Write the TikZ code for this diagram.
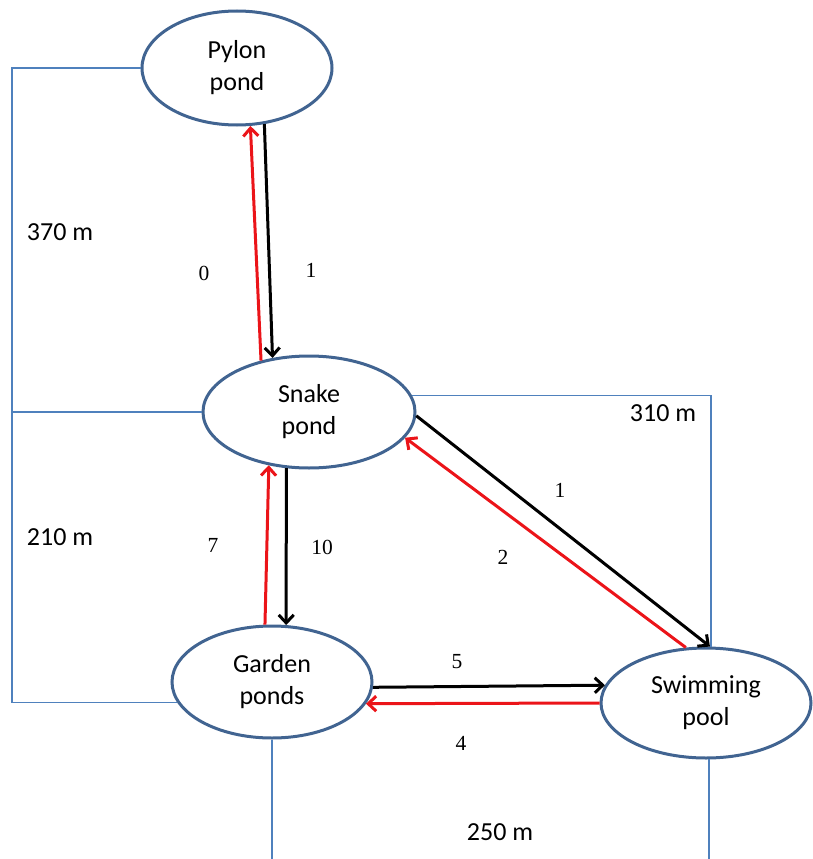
\documentclass[tikz,border=0pt]{standalone}
\usepackage{fontspec}
\setmainfont{Carlito}
\newfontfamily\numfont{Liberation Serif}
\usetikzlibrary{arrows.meta,shapes.geometric}
\definecolor{rimblue}{RGB}{65,100,145}
\definecolor{routeblue}{RGB}{79,129,189}
\definecolor{backred}{RGB}{235,20,25}
\tikzset{
  pond/.style={ellipse, draw=rimblue, line width=3pt, fill=white,
    minimum width=#1, align=center, inner sep=0pt,
    font=\fontsize{26}{32}\selectfont},
  route/.style={draw=routeblue, line width=1.4pt},
  flow/.style={line width=3pt, -{Straight Barb[length=8pt,width=15pt]}},
  fwd/.style={flow, draw=black},
  back/.style={flow, draw=backred},
  dist/.style={inner sep=0pt, font=\fontsize{26}{30}\selectfont},
  count/.style={inner sep=0pt, font=\numfont\fontsize{21.5}{24}\selectfont},
}
\begin{document}
\begin{tikzpicture}[x=1pt,y=-1pt]
\useasboundingbox (0,0) rectangle (812,859);

% ponds
\node[pond=190pt, minimum height=114pt] (pylon) at (237,68) {Pylon\\pond};
\node[pond=212pt, minimum height=112pt] (snake) at (309,412) {Snake\\pond};
\node[pond=200pt, minimum height=112pt] (garden) at (272,682) {Garden\\ponds};
\node[pond=210pt, minimum height=110pt] (swim) at (706,703) {Swimming\\pool};

% distance routes
\coordinate (lx) at (12,0);
\coordinate (rx) at (711,0);
\coordinate (bottom) at (0,859);
\draw[route] (pylon.west) -- (pylon.west -| lx) -- (garden.192 -| lx) -- (garden.192);
\draw[route] (snake.west -| lx) -- (snake.west);
\draw[route] (snake.9) -- (snake.9 -| rx) -- (swim.85 -| rx);
\draw[route] (garden.south) -- (garden.south |- bottom);
\draw[route] (swim.-87) -- (swim.-87 |- bottom);

% flows
\draw[back] (snake.133) -- (pylon.-77);
\draw[fwd] (pylon.-64) -- (snake.124);
\draw[back] (garden.97) -- (snake.-127);
\draw[fwd] (snake.-112) -- (garden.76);
\draw[fwd] (snake.-2) -- (swim.86);
\draw[back] (swim.110) -- (snake.-15);
\draw[fwd] (garden.-3) -- (swim.170);
\draw[back] (swim.180) -- (garden.-13);

% distances
\node[dist] (d370) at (60,232) {370 m};
\node[dist] (d210) at (60,537) {210 m};
\node[dist] (d310) at (663,413) {310 m};
\node[dist] (d250) at (500,832) {250 m};

% counts
\node[count] (c0) at (204,273) {0};
\node[count] (c1) at (311,270) {1};
\node[count] (c7) at (213,545) {7};
\node[count] (c10) at (322,547) {10};
\node[count] (c1b) at (560,490) {1};
\node[count] (c2) at (503,557) {2};
\node[count] (c5) at (457,662) {5};
\node[count] (c4) at (461,743) {4};
\end{tikzpicture}
\end{document}
